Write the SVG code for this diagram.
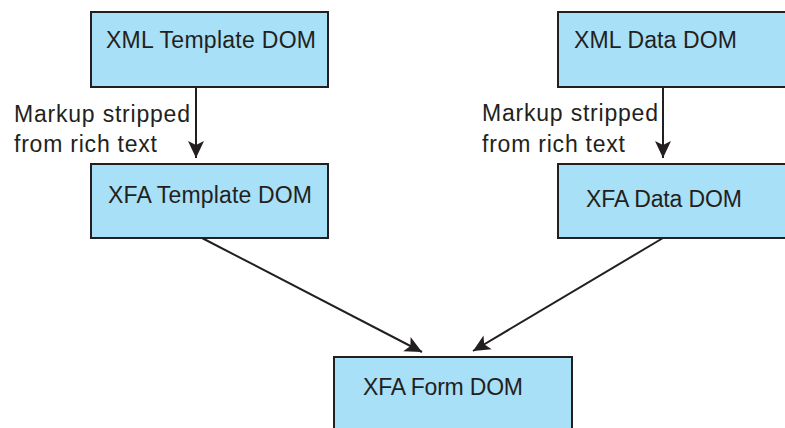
<svg xmlns="http://www.w3.org/2000/svg" width="785" height="428" viewBox="0 0 785 428">
<style>
.box{fill:#A8E0F8;stroke:#231F20;stroke-width:2}
.t{font-family:"Liberation Sans",Arial,sans-serif;font-size:23px;fill:#231F20}
.c{stroke:#231F20;stroke-width:2;fill:none;marker-end:url(#ah)}
</style>
<defs>
<marker id="ah" markerUnits="userSpaceOnUse" viewBox="-18 -9 20 18" markerWidth="20" markerHeight="18" refX="0" refY="0" orient="auto">
<path d="M0,0 L-17,-8 L-13,0 L-17,8 Z" fill="#231F20"/>
</marker>
</defs>
<rect width="785" height="428" fill="#fff"/>
<g id="xml-template-dom"><rect class="box" x="91" y="12" width="237" height="75"/><text class="t" x="106" y="48" textLength="210">XML Template DOM</text></g>
<g id="xfa-template-dom"><rect class="box" x="91" y="164" width="237" height="74"/><text class="t" x="108" y="203" textLength="204">XFA Template DOM</text></g>
<g id="xml-data-dom"><rect class="box" x="558" y="12" width="230" height="75"/><text class="t" x="574" y="48" textLength="163">XML Data DOM</text></g>
<g id="xfa-data-dom"><rect class="box" x="558" y="164" width="230" height="74"/><text class="t" x="586" y="207" textLength="156">XFA Data DOM</text></g>
<g id="xfa-form-dom"><rect class="box" x="334" y="357" width="238" height="80"/><text class="t" x="363" y="395" textLength="160">XFA Form DOM</text></g>
<g id="connectors">
<line class="c" x1="196" y1="87" x2="196" y2="158"/>
<line class="c" x1="663" y1="87" x2="663" y2="158"/>
<line class="c" x1="202" y1="238" x2="422" y2="352"/>
<line class="c" x1="663" y1="238" x2="473" y2="351"/>
</g>
<g id="labels">
<text class="t" x="14" y="122" textLength="176">Markup stripped</text>
<text class="t" x="14" y="152" textLength="143">from rich text</text>
<text class="t" x="482" y="121" textLength="176">Markup stripped</text>
<text class="t" x="482" y="152" textLength="143">from rich text</text>
</g>
</svg>
